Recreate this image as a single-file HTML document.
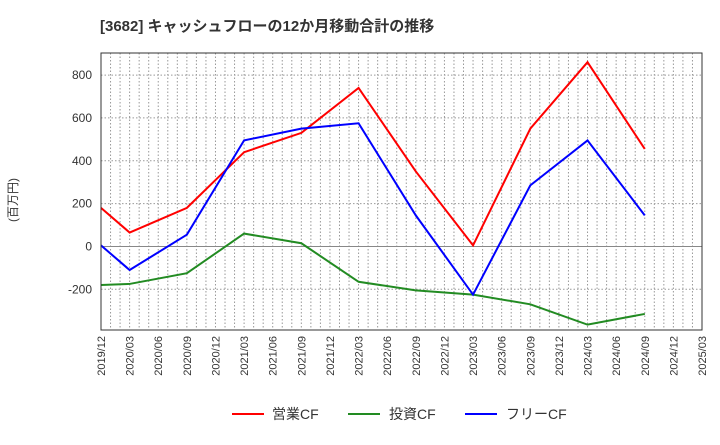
<!DOCTYPE html>
<html><head><meta charset="utf-8"><style>
body{margin:0;background:#fff;font-family:"Liberation Sans","Noto Sans CJK JP",sans-serif;}
</style></head><body>
<svg id="c" width="720" height="440" xmlns="http://www.w3.org/2000/svg">
<text x="100" y="31" font-size="15" font-weight="bold" fill="#333" font-family="Liberation Sans, Noto Sans CJK JP, sans-serif">[3682]  キャッシュフローの12か月移動合計の推移</text>
<text transform="translate(17,200) rotate(-90)" font-size="12" fill="#333" text-anchor="middle" font-family="Liberation Sans, Noto Sans CJK JP, sans-serif">(百万円)</text>
<g id="grid"></g><g id="series"></g><g id="axes"></g>
<g font-size="14" fill="#333" font-family="Liberation Sans, Noto Sans CJK JP, sans-serif">
<line x1="232" y1="414" x2="264" y2="414" stroke="#f00" stroke-width="2"/>
<text x="272" y="419">営業CF</text>
<line x1="348" y1="414" x2="380" y2="414" stroke="#228b22" stroke-width="2"/>
<text x="389" y="419">投資CF</text>
<line x1="465" y1="414" x2="497" y2="414" stroke="#00f" stroke-width="2"/>
<text x="506" y="419">フリーCF</text>
</g>
</svg>
<script>
const xLabels=["2019/12","2020/03","2020/06","2020/09","2020/12","2021/03","2021/06","2021/09","2021/12","2022/03","2022/06","2022/09","2022/12","2023/03","2023/06","2023/09","2023/12","2024/03","2024/06","2024/09","2024/12","2025/03"];
const yTicks=[-200,0,200,400,600,800];
const pointIdx=[0,1,3,5,7,9,11,13,15,17,19];
const operatingCF=[180,65,180,440,530,740,350,5,550,860,455];
const investingCF=[-180,-175,-125,60,15,-165,-205,-225,-270,-365,-315];
const freeCF=[5,-110,55,495,550,575,145,-225,285,495,145];
const L=101,R=702,T=53,B=330,yMin=-390,yMax=903;
const NS="http://www.w3.org/2000/svg";
const xs=i=>L+(R-L)*i/(xLabels.length-1);
const ys=v=>B-(v-yMin)/(yMax-yMin)*(B-T);
function mk(tag,attrs,parent){const e=document.createElementNS(NS,tag);for(const k in attrs)e.setAttribute(k,attrs[k]);parent.appendChild(e);return e;}
const grid=document.getElementById('grid'),axes=document.getElementById('axes'),ser=document.getElementById('series');
for(let m=1;m<(xLabels.length-1)*3;m++){const x=L+(R-L)*m/((xLabels.length-1)*3);
const g=mk('line',{x1:x,x2:x,y1:T,y2:B,stroke:'#999','stroke-dasharray':'1.5,2','stroke-width':1},grid);

}
yTicks.forEach(v=>{const y=ys(v);
const g=mk('line',{x1:L,x2:R,y1:y,y2:y,stroke:v===0?'#888':'#999','stroke-dasharray':v===0?'':'1.5,2','stroke-width':1},grid);


const t=mk('text',{x:L-9,y:y+4,'text-anchor':'end','font-size':12,fill:'#333'},axes);t.textContent=v;

});
xLabels.forEach((s,i)=>{const x=xs(i);
const t=mk('text',{transform:`translate(${x+4},${B+6}) rotate(-90)`,'text-anchor':'end','font-size':11,fill:'#333'},axes);t.textContent=s;

});
const fr=mk('rect',{x:L,y:T,width:R-L,height:B-T,fill:'none',stroke:'#333','stroke-width':1},axes);


[[operatingCF,'#f00','operating-cf-line'],[investingCF,'#228b22','investing-cf-line'],[freeCF,'#00f','free-cf-line']].forEach(([d,c,n])=>{
const p=mk('polyline',{points:d.map((v,k)=>xs(pointIdx[k])+','+ys(v)).join(' '),fill:'none',stroke:c,'stroke-width':2},ser);

});
</script>
</body></html>
